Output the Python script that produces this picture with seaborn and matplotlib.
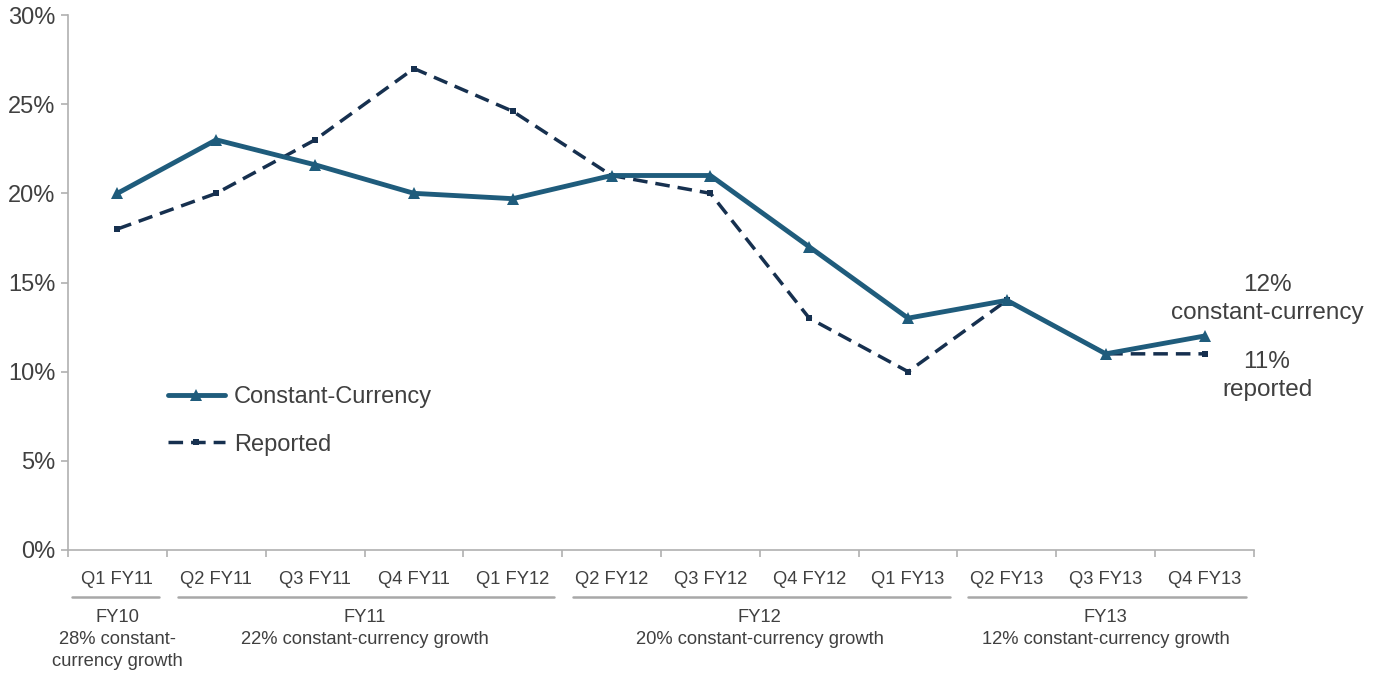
import matplotlib
matplotlib.use("Agg")
import matplotlib.pyplot as plt
import matplotlib.transforms as mtransforms
import seaborn as sns
import pandas as pd

quarters = ["Q1 FY11", "Q2 FY11", "Q3 FY11", "Q4 FY11", "Q1 FY12", "Q2 FY12",
            "Q3 FY12", "Q4 FY12", "Q1 FY13", "Q2 FY13", "Q3 FY13", "Q4 FY13"]
constant_currency = [20, 23, 21.6, 20, 19.7, 21, 21, 17, 13, 14, 11, 12]
reported = [18, 20, 23, 27, 24.6, 21, 20, 13, 10, 14, 11, 11]
yticks = [0, 5, 10, 15, 20, 25, 30]
groups = ["FY10\n28% constant-\ncurrency growth", "FY11\n22% constant-currency growth",
          "FY12\n20% constant-currency growth", "FY13\n12% constant-currency growth"]
group_spans = [(0, 0), (1, 4), (5, 8), (9, 11)]

sns.set_theme(style="white")
plt.rcParams['font.family'] = ['Liberation Sans', 'DejaVu Sans']

C_CC = "#1f5c7c"
C_REP = "#16304f"
GRAY_TXT = "#404040"
AX_GRAY = "#b0b0b0"

fig = plt.figure(figsize=(13.86, 6.77), dpi=100)
ax = fig.add_axes([68/1386, 127/677, (1254-68)/1386, 535/677])

df = pd.DataFrame({"pos": list(range(len(quarters))), "quarter": quarters,
                   "cc": constant_currency, "rep": reported})

sns.lineplot(data=df, x="pos", y="rep", ax=ax, color=C_REP, linewidth=2.5,
             marker="s", markersize=5, markeredgewidth=0, label="Reported",
             dashes=False)
ax.lines[-1].set_dashes([4.2, 2.3])
sns.lineplot(data=df, x="pos", y="cc", ax=ax, color=C_CC, linewidth=3.5,
             marker="^", markersize=8, markeredgewidth=0, label="Constant-Currency")

ax.set_xlim(-0.5, len(quarters) - 0.5)
ax.set_ylim(0, 30)
ax.set_yticks(yticks)
ax.set_yticklabels([f"{v}%" for v in yticks], fontsize=17, color=GRAY_TXT)
ax.set_xticks([i - 0.5 for i in range(len(quarters) + 1)])
ax.set_xticklabels([])
ax.set_xlabel("")
ax.set_ylabel("")
for s in ["top", "right"]:
    ax.spines[s].set_visible(False)
for s in ["left", "bottom"]:
    ax.spines[s].set_color(AX_GRAY)
    ax.spines[s].set_linewidth(1.2)
ax.tick_params(axis="both", which="major", direction="out", length=5,
               width=1.2, color=AX_GRAY, left=True, bottom=True, pad=4)

trans = mtransforms.blended_transform_factory(ax.transData, ax.transAxes)
for i, q in enumerate(quarters):
    ax.text(i, -30/535, q, transform=trans, ha="center", va="center",
            fontsize=13.2, color=GRAY_TXT, clip_on=False)

line_y = -47/535
for (a, b), g in zip(group_spans, groups):
    x0 = a - 0.46 if a == 0 else a - 0.39
    x1 = b + 0.42
    ax.plot([x0, x1], [line_y, line_y], transform=trans, color="#a8a8a8",
            linewidth=1.8, clip_on=False)
    ax.text((a + b) / 2, -59/535, g, transform=trans, ha="center", va="top",
            fontsize=13.2, color=GRAY_TXT, linespacing=1.38, clip_on=False)

ax.text(1267/1386, (677-299)/677, "12%\nconstant-currency", transform=fig.transFigure,
        ha="center", va="center", fontsize=17.5, color=GRAY_TXT, linespacing=1.3)
ax.text(1267/1386, (677-376)/677, "11%\nreported", transform=fig.transFigure,
        ha="center", va="center", fontsize=17.5, color=GRAY_TXT, linespacing=1.3)

handles, labels = ax.get_legend_handles_labels()
order = [labels.index("Constant-Currency"), labels.index("Reported")]
leg = ax.legend([handles[i] for i in order], [labels[i] for i in order],
                loc="upper left", bbox_to_anchor=(168/1386, (677-386)/677),
                bbox_transform=fig.transFigure, frameon=False, fontsize=17,
                handlelength=2.4, handletextpad=0.38, labelspacing=1.08,
                borderaxespad=0, borderpad=0)
for t in leg.get_texts():
    t.set_color(GRAY_TXT)

fig.savefig("out.png", dpi=100)
